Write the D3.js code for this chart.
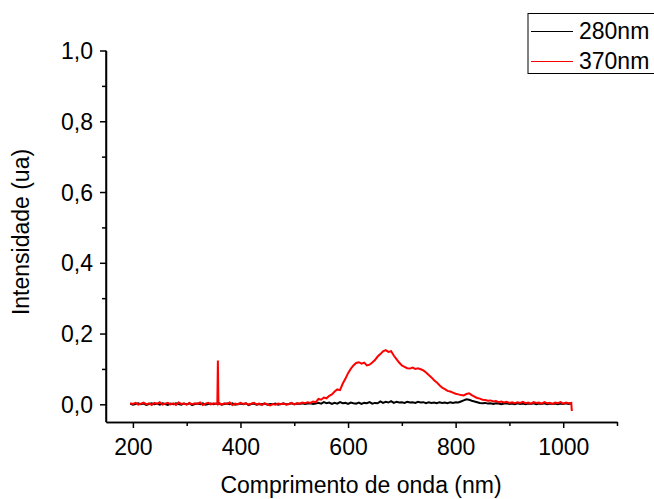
<!DOCTYPE html>
<html>
<head>
<meta charset="utf-8">
<script src="https://cdn.jsdelivr.net/npm/d3@7"></script>
<style>
  body { margin: 0; background: #fff; }
  svg { display: block; font-family: Arial, "Liberation Sans", sans-serif; }
</style>
</head>
<body>
<div id="chart"></div>
<script>
// Wavelength grid (nm), shared by both spectra
const wavelength = [
  195, 200, 205, 210, 215, 220, 225, 230, 235, 240, 245, 250, 255, 260, 265, 270,
  275, 280, 285, 290, 295, 300, 305, 310, 315, 320, 325, 330, 335, 340, 345, 350,
  355, 357, 358, 359, 360, 365, 370, 375, 380, 385, 390, 395, 400, 405, 410, 415,
  420, 425, 430, 435, 440, 445, 450, 455, 460, 465, 470, 475, 480, 485, 490, 495,
  500, 505, 510, 515, 520, 525, 530, 535, 540, 545, 550, 555, 560, 565, 570, 575,
  580, 585, 590, 595, 600, 605, 610, 615, 620, 625, 630, 635, 640, 645, 650, 655,
  660, 665, 670, 675, 680, 685, 690, 695, 700, 705, 710, 715, 720, 725, 730, 735,
  740, 745, 750, 755, 760, 765, 770, 775, 780, 785, 790, 795, 800, 805, 810, 815,
  820, 825, 830, 835, 840, 845, 850, 855, 860, 865, 870, 875, 880, 885, 890, 895,
  900, 905, 910, 915, 920, 925, 930, 935, 940, 945, 950, 955, 960, 965, 970, 975,
  980, 985, 990, 995, 1000, 1005, 1010, 1015, 1016
];

// 370nm excitation (red)
const intens370 = [
  0.003, 0.001, 0.004, -0.001, 0.002, 0.005, 0.000, 0.003, -0.002, 0.004, 0.001, 0.006, -0.001, 0.002, 0.004, 0.000,
  0.003, -0.002, 0.005, 0.001, 0.002, -0.001, 0.004, 0.000, 0.003, 0.001, 0.005, -0.002, 0.002, 0.004, 0.000, 0.003,
  0.001, 0.002, 0.124, 0.002, 0.004, -0.001, 0.003, 0.001, 0.005, -0.002, 0.002, 0.000, 0.004, 0.001, 0.003, -0.001,
  0.002, 0.004, 0.000, 0.002, -0.002, 0.003, 0.000, -0.003, 0.001, -0.001, 0.002, 0.000, 0.003, -0.001, 0.001, 0.004,
  0.000, 0.003, 0.002, 0.005, 0.003, 0.006, 0.004, 0.008, 0.006, 0.015, 0.013, 0.019, 0.017, 0.024, 0.028, 0.036,
  0.042, 0.040, 0.058, 0.072, 0.088, 0.100, 0.110, 0.117, 0.119, 0.115, 0.118, 0.110, 0.112, 0.118, 0.125, 0.135,
  0.142, 0.150, 0.153, 0.148, 0.150, 0.138, 0.128, 0.118, 0.110, 0.106, 0.102, 0.101, 0.104, 0.100, 0.102, 0.099,
  0.096, 0.090, 0.083, 0.076, 0.068, 0.062, 0.054, 0.047, 0.043, 0.038, 0.036, 0.033, 0.030, 0.028, 0.026, 0.025,
  0.029, 0.031, 0.026, 0.022, 0.018, 0.016, 0.013, 0.012, 0.010, 0.011, 0.008, 0.009, 0.006, 0.008, 0.005, 0.007,
  0.004, 0.006, 0.003, 0.006, 0.004, 0.007, 0.003, 0.005, 0.002, 0.006, 0.004, 0.005, 0.002, 0.006, 0.003, 0.004,
  0.001, 0.005, 0.003, 0.006, 0.002, 0.005, 0.003, 0.004, -0.019
];

// 280nm excitation (black)
const intens280 = [
  0.002, -0.001, 0.001, 0.003, 0.000, 0.002, -0.002, 0.001, 0.003, 0.000, 0.002, -0.001, 0.003, 0.001, -0.002, 0.002,
  0.000, 0.003, 0.001, -0.001, 0.002, 0.000, 0.003, -0.002, 0.001, 0.002, 0.000, 0.003, -0.001, 0.001, 0.002, 0.000,
  0.002, 0.001, 0.001, 0.001, 0.003, -0.001, 0.001, 0.002, 0.000, 0.003, -0.001, 0.001, 0.002, 0.000, 0.003, -0.002,
  0.001, 0.002, -0.001, 0.001, 0.000, 0.002, -0.001, 0.001, 0.000, 0.002, -0.001, 0.001, 0.002, 0.000, 0.001, 0.003,
  0.000, 0.002, 0.001, 0.003, 0.001, 0.002, 0.003, 0.001, 0.002, 0.004, 0.002, 0.006, 0.003, 0.005, 0.001, 0.004,
  0.002, 0.006, 0.003, 0.004, 0.001, 0.005, 0.003, 0.002, 0.005, 0.001, 0.004, 0.003, 0.006, 0.002, 0.004, 0.003,
  0.008, 0.004, 0.007, 0.005, 0.009, 0.004, 0.007, 0.005, 0.006, 0.004, 0.007, 0.005, 0.006, 0.004, 0.007, 0.005,
  0.006, 0.003, 0.006, 0.004, 0.005, 0.003, 0.006, 0.004, 0.005, 0.003, 0.006, 0.004, 0.006, 0.005, 0.008, 0.011,
  0.014, 0.013, 0.010, 0.008, 0.006, 0.004, 0.003, 0.004, 0.002, 0.003, 0.001, 0.003, 0.002, 0.000, 0.002, 0.003,
  0.001, 0.002, 0.000, 0.003, 0.001, 0.002, 0.000, 0.002, 0.001, 0.003, 0.000, 0.002, 0.001, 0.003, 0.000, 0.002,
  0.001, 0.002, 0.000, 0.002, 0.001, 0.003, 0.001, 0.002, 0.002
];

const seriesNames = ["280nm", "370nm"];
const seriesColors = ["#000000", "#ff0000"];

const xMajor = [200, 400, 600, 800, 1000];
const xMinor = [300, 500, 700, 900, 1100];
const yMajor = [0, 0.2, 0.4, 0.6, 0.8, 1.0];
const yMinor = [0.1, 0.3, 0.5, 0.7, 0.9];

const width = 654, height = 499;
const fontSize = 23;

const svg = d3.select("#chart").append("svg")
  .attr("width", width)
  .attr("height", height);

const x = d3.scaleLinear().domain([150, 1100]).range([106, 617]);
const y = d3.scaleLinear().domain([-0.05, 1.0]).range([422, 50.5]);

// Spectra: black first, red on top
const line = d3.line()
  .x(d => x(d[0]))
  .y(d => y(d[1]));

const data280 = wavelength.map((w, i) => [w, intens280[i]]);
const data370 = wavelength.map((w, i) => [w, intens370[i]]);

svg.append("path")
  .datum(data280)
  .attr("fill", "none")
  .attr("stroke", seriesColors[0])
  .attr("stroke-width", 2)
  .attr("d", line);

svg.append("path")
  .datum(data370)
  .attr("fill", "none")
  .attr("stroke", seriesColors[1])
  .attr("stroke-width", 2)
  .attr("d", line);

// Bottom axis
const fmt = d => d3.format(".1f")(d).replace(".", ",");

const xAxis = svg.append("g")
  .attr("transform", `translate(0,${y.range()[0]})`)
  .call(d3.axisBottom(x).tickValues(xMajor).tickSize(6).tickPadding(11).tickFormat(d3.format("d")).tickSizeOuter(0));
svg.append("g")
  .attr("transform", `translate(0,${y.range()[0]})`)
  .call(d3.axisBottom(x).tickValues(xMinor).tickSize(4).tickFormat("").tickSizeOuter(0));

// Left axis
const yAxis = svg.append("g")
  .attr("transform", `translate(${x.range()[0]},0)`)
  .call(d3.axisLeft(y).tickValues(yMajor).tickSize(6).tickPadding(7).tickFormat(fmt).tickSizeOuter(0));
svg.append("g")
  .attr("transform", `translate(${x.range()[0]},0)`)
  .call(d3.axisLeft(y).tickValues(yMinor).tickSize(4).tickFormat("").tickSizeOuter(0));

svg.selectAll(".domain, .tick line")
  .attr("stroke", "#000")
  .attr("stroke-width", 1.5);
svg.selectAll(".tick text")
  .attr("fill", "#000")
  .style("font-size", fontSize + "px");
xAxis.selectAll(".tick text").attr("dy", "0.71em");
yAxis.selectAll(".tick text").attr("dy", "0.35em");

// Left axis should stop at 1,0
yAxis.select(".domain").attr("d", `M0,${y(1.0)}V${y.range()[0]}`);

// Axis titles
svg.append("text")
  .attr("x", 361)
  .attr("y", 493)
  .attr("text-anchor", "middle")
  .style("font-size", fontSize + "px")
  .text("Comprimento de onda (nm)");

svg.append("text")
  .attr("transform", "translate(29,232) rotate(-90)")
  .attr("text-anchor", "middle")
  .style("font-size", fontSize + "px")
  .text("Intensidade (ua)");

// Legend
const legend = svg.append("g");
legend.append("rect")
  .attr("x", 528)
  .attr("y", 13.5)
  .attr("width", 140)
  .attr("height", 60)
  .attr("fill", "#fff")
  .attr("stroke", "#000")
  .attr("stroke-width", 1);

seriesNames.forEach((name, i) => {
  const ly = 31.5 + i * 30;
  legend.append("line")
    .attr("x1", 531).attr("x2", 573)
    .attr("y1", ly).attr("y2", ly)
    .attr("stroke", seriesColors[i])
    .attr("stroke-width", 1);
  legend.append("text")
    .attr("x", 579)
    .attr("y", ly + 7)
    .style("font-size", fontSize + "px")
    .text(name);
});
</script>
</body>
</html>
